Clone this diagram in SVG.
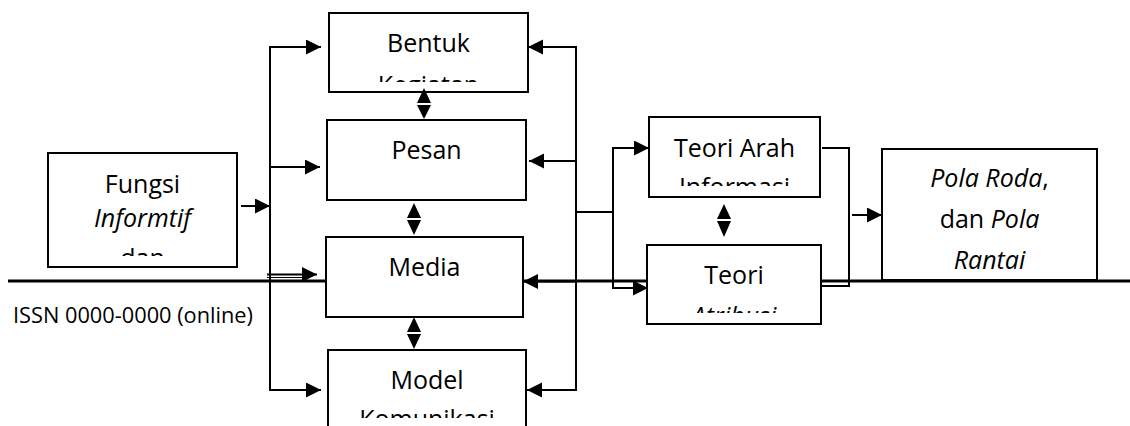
<svg xmlns="http://www.w3.org/2000/svg" width="1130" height="426" viewBox="0 0 1130 426">
<style>
.box{fill:#fff;stroke:#000;stroke-width:2}
.t{font-family:"Open Sans","Noto Sans","DejaVu Sans",sans-serif;font-size:25px;fill:#000;text-anchor:middle}
.i{font-style:italic}
.c{fill:none;stroke:#000;stroke-width:2}
.h{fill:#000}
</style>
<defs>
<marker id="ah" markerUnits="userSpaceOnUse" markerWidth="17" markerHeight="17" refX="15" refY="7.5" orient="auto">
<path d="M0,0 L15,7.5 L0,15 z" fill="#000"/>
</marker>
<clipPath id="cpBentuk"><rect x="329" y="13" width="199" height="69"/></clipPath>
<clipPath id="cpFungsi"><rect x="48" y="153" width="189" height="103"/></clipPath>
<clipPath id="cpArah"><rect x="649" y="117" width="171" height="69"/></clipPath>
<clipPath id="cpAtribusi"><rect x="647" y="245" width="174" height="68"/></clipPath>
<clipPath id="cpModel"><rect x="328" y="350" width="198" height="68"/></clipPath>
</defs>

<rect x="0" y="0" width="1130" height="426" fill="#fff"/>

<!-- page rule -->
<line x1="8" y1="281" x2="1130" y2="281" stroke="#000" stroke-width="3"/>
<text x="13" y="323" font-family="'Open Sans','Noto Sans',sans-serif" font-size="22" textLength="240" lengthAdjust="spacingAndGlyphs">ISSN 0000-0000 (online)</text>

<g id="node-fungsi">
<rect class="box" x="48" y="153" width="189" height="114"/>
<g clip-path="url(#cpFungsi)">
<text class="t" x="142.5" y="193">Fungsi</text>
<text class="t i" x="142.5" y="227">Informtif</text>
<text class="t" x="142.5" y="267">dan</text>
</g>
</g>

<g id="node-bentuk">
<rect class="box" x="329" y="13" width="199" height="79"/>
<g clip-path="url(#cpBentuk)">
<text class="t" x="428.5" y="52">Bentuk</text>
<text class="t" x="428.5" y="94">Kegiatan</text>
</g>
</g>

<g id="node-pesan">
<rect class="box" x="327" y="120" width="199" height="80"/>
<text class="t" x="426.5" y="159">Pesan</text>
</g>

<g id="node-media">
<rect class="box" x="326" y="237" width="197" height="80"/>
<text class="t" x="424.5" y="276">Media</text>
</g>

<g id="node-model">
<rect class="box" x="328" y="350" width="198" height="90"/>
<g clip-path="url(#cpModel)">
<text class="t" x="427" y="389">Model</text>
<text class="t" x="427" y="428">Komunikasi</text>
</g>
</g>

<g id="node-arah">
<rect class="box" x="649" y="117" width="171" height="80"/>
<g clip-path="url(#cpArah)">
<text class="t" x="734.5" y="157">Teori Arah</text>
<text class="t" x="734.5" y="196">Informasi</text>
</g>
</g>

<g id="node-atribusi">
<rect class="box" x="647" y="245" width="174" height="79"/>
<g clip-path="url(#cpAtribusi)">
<text class="t" x="734" y="284">Teori</text>
<text class="t i" x="734" y="325">Atribusi</text>
</g>
</g>

<g id="node-pola">
<rect class="box" x="882" y="149" width="215" height="131"/>
<text class="t" x="989.5" y="187"><tspan class="i">Pola Roda</tspan>,</text>
<text class="t" x="989.5" y="228">dan <tspan class="i">Pola</tspan></text>
<text class="t i" x="989.5" y="269">Rantai</text>
</g>

<g id="connectors">
<!-- Fungsi to left bus -->
<line class="c" x1="241" y1="206" x2="270" y2="206" marker-end="url(#ah)"/>
<!-- left bus -->
<line class="c" x1="270" y1="47" x2="270" y2="391"/>
<line class="c" x1="269" y1="47" x2="321" y2="47" marker-end="url(#ah)"/>
<line class="c" x1="269" y1="167" x2="320" y2="167" marker-end="url(#ah)"/>
<line class="c" x1="267" y1="274.5" x2="317" y2="274.5" marker-end="url(#ah)"/>
<line stroke="#000" stroke-width="1" x1="267" y1="277.5" x2="305" y2="277.5"/>
<line class="c" x1="269" y1="390" x2="321" y2="390" marker-end="url(#ah)"/>

<!-- right bus of centre column -->
<line class="c" x1="576" y1="46" x2="576" y2="391"/>
<line class="c" x1="577" y1="47" x2="528" y2="47" marker-end="url(#ah)"/>
<line class="c" x1="577" y1="161" x2="529" y2="161" marker-end="url(#ah)"/>
<line class="c" x1="577" y1="281.5" x2="523" y2="281.5" marker-end="url(#ah)"/>
<line class="c" x1="577" y1="390" x2="527" y2="390" marker-end="url(#ah)"/>

<!-- link to theory bus -->
<line class="c" x1="576" y1="212" x2="613" y2="212"/>
<line class="c" x1="613" y1="147" x2="613" y2="289"/>
<line class="c" x1="612" y1="148" x2="649" y2="148" marker-end="url(#ah)"/>
<line class="c" x1="612" y1="288" x2="648" y2="288" marker-end="url(#ah)"/>

<!-- right bracket -->
<polyline class="c" points="822,148 849,148 849,286 822,286"/>
<line class="c" x1="852" y1="215" x2="882" y2="215" marker-end="url(#ah)"/>

<!-- double arrows -->
<polygon class="h" points="424,88 417,103 431,103"/>
<polygon class="h" points="417,105 431,105 424,119"/>
<polygon class="h" points="414,203 407,218 421,218"/>
<polygon class="h" points="407,220 421,220 414,235"/>
<polygon class="h" points="414,317 407,332 421,332"/>
<polygon class="h" points="407,334 421,334 414,349"/>
<polygon class="h" points="724,204 717,219 731,219"/>
<polygon class="h" points="717,221 731,221 724,237"/>
</g>
</svg>
